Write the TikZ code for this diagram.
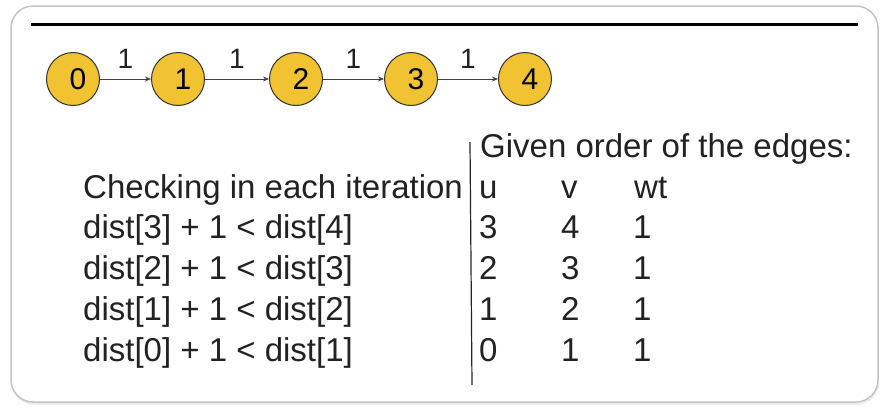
\documentclass[tikz,border=0pt]{standalone}
\usepackage{fontspec}
\setmainfont{Liberation Sans}
\usetikzlibrary{arrows.meta}
\definecolor{nodeYellow}{HTML}{F1C232}
\definecolor{inkGray}{HTML}{222222}
\definecolor{frameGray}{HTML}{C4C4C4}
\begin{document}
\begin{tikzpicture}[x=1pt, y=-1pt,
    vtx/.style={circle, draw=black!80, line width=1pt, fill=nodeYellow,
        minimum size=53pt, inner sep=3pt, font=\fontsize{30}{34}\selectfont},
    wedge/.style={draw=black!75, line width=1pt, -{Stealth[length=6pt,width=5pt]}},
    txt/.style={anchor=base west, inner sep=0pt, text=inkGray,
        font=\fontsize{33}{40}\selectfont}]
    \useasboundingbox (0,0) rectangle (889,418);

    \pgfmathsetmacro{\rowgap}{41} %每一列的間距
    \pgfmathsetmacro{\rowtop}{197}

    %%外框 與 上方的黑線
    \fill[black!7, rounded corners=22pt] (12,9) rectangle (879,405);
    \draw[frameGray, fill=white, line width=1.5pt, rounded corners=22pt] (11,6) rectangle (878,402);
    \coordinate (barL) at (31,24);
    \coordinate (barR) at (858,24);
    \draw[black, line width=3pt] (barL) -- (barR);

    %%圖上的頂點
    \foreach \v/\x in {0/73, 1/178, 2/296, 3/411, 4/525}
    {
        \node[vtx] (n\v) at (\x,79) {\hspace*{10pt}\v};
    };
    \foreach \a/\b in {0/1, 1/2, 2/3, 3/4}
    {
        \draw[wedge] (n\a) -- (n\b) node[midway, above=7pt, text=inkGray,
            inner sep=3.3pt, font=\fontsize{28}{32}\selectfont] (w\a) {1};
    };

    %%左邊的檢查式
    \node[txt] (chkHead) at (83,\rowtop+1) {Checking in each iteration};
    \foreach \a/\b [count=\i] in {3/4, 2/3, 1/2, 0/1}
    {
        \node[txt] (chk\i) at (83,\rowtop+\rowgap*\i) {dist[\a] + 1 < dist[\b]};
    };

    %%分隔線
    \coordinate (sepTop) at (470,142);
    \coordinate (sepBot) at (472,385);
    \draw[black!85, line width=1.2pt] (sepTop) -- (sepBot);

    %%右邊的邊列表
    \node[txt] (edgeHead) at (480,157) {Given order of the edges:};
    \node[txt] (colU) at (479,\rowtop+1) {u};
    \node[txt] (colV) at (561,\rowtop+1) {v};
    \node[txt] (colW) at (634,\rowtop+1) {wt};
    \foreach \u/\v/\t [count=\i] in {3/4/1, 2/3/1, 1/2/1, 0/1/1}
    {
        \node[txt] (eu\i) at (479,\rowtop+\rowgap*\i) {\u};
        \node[txt] (ev\i) at (561,\rowtop+\rowgap*\i) {\v};
        \node[txt] (ew\i) at (633,\rowtop+\rowgap*\i) {\t};
    };
\end{tikzpicture}
\end{document}
